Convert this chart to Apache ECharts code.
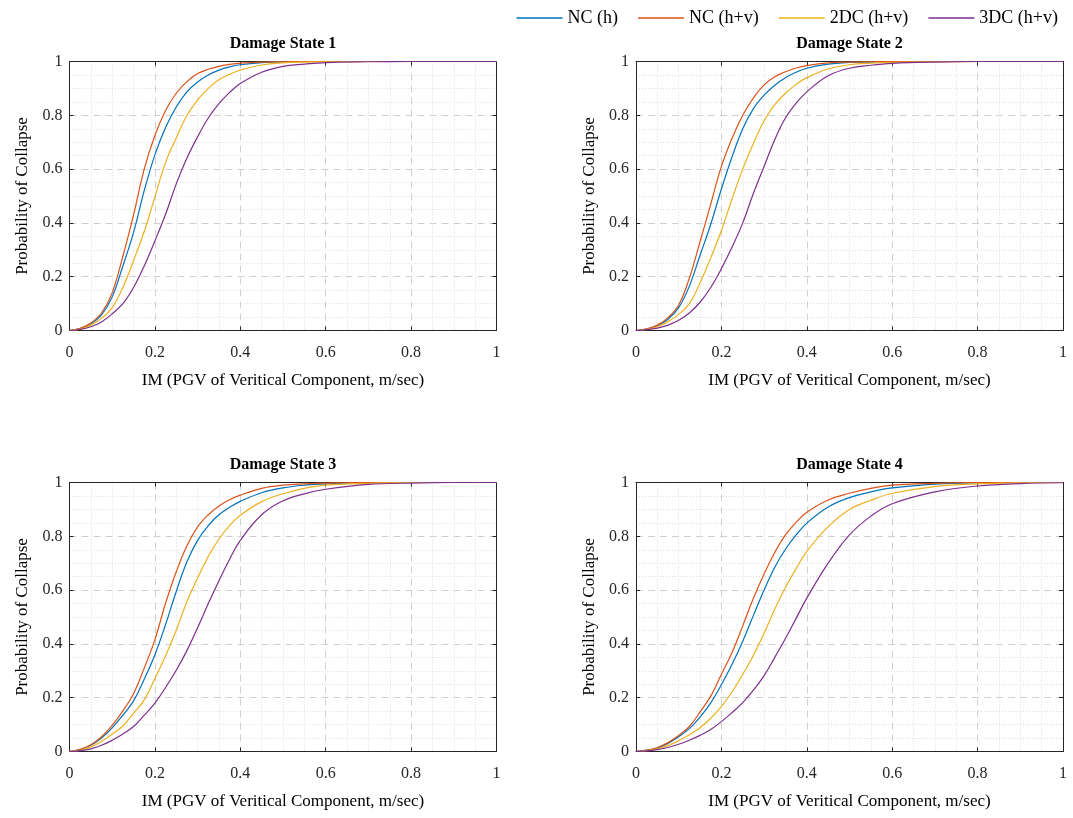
<!DOCTYPE html>
<html>
<head>
<meta charset="utf-8">
<script src="https://cdn.jsdelivr.net/npm/echarts@6/dist/echarts.min.js"></script>
<style>html,body{margin:0;padding:0;background:#fff}#c{width:1073px;height:818px}</style>
</head>
<body>
<div id="c"></div>
<script>
// ---- data ----
const xs = [0,0.025,0.05,0.075,0.1,0.125,0.15,0.175,0.2,0.225,0.25,0.275,0.3,0.325,0.35,0.375,0.4,0.45,0.5,0.55,0.6,0.7,0.8,0.9,1.0];
const seriesNames = ['NC (h)','NC (h+v)','2DC (h+v)','3DC (h+v)'];
const panelTitles = ['Damage State 1','Damage State 2','Damage State 3','Damage State 4'];
const tickValues = [0,0.2,0.4,0.6,0.8,1];

// Damage State 1
const ds1_nc_h   = [0,0.007,0.025,0.058,0.125,0.24,0.365,0.52,0.653,0.755,0.831,0.887,0.924,0.95,0.968,0.98,0.988,0.996,0.999,1,1,1,1,1,1];
const ds1_nc_hv  = [0,0.008,0.028,0.065,0.14,0.276,0.43,0.6,0.725,0.818,0.882,0.925,0.955,0.971,0.982,0.989,0.994,0.998,0.999,1,1,1,1,1,1];
const ds1_2dc_hv = [0,0.005,0.02,0.045,0.085,0.16,0.26,0.368,0.497,0.625,0.716,0.8,0.857,0.9,0.932,0.952,0.968,0.987,0.995,0.998,0.999,1,1,1,1];
const ds1_3dc_hv = [0,0.004,0.014,0.032,0.062,0.1,0.16,0.24,0.333,0.432,0.545,0.641,0.72,0.79,0.843,0.885,0.918,0.96,0.982,0.99,0.996,0.999,1,1,1];
// Damage State 2
const ds2_nc_h   = [0,0.005,0.018,0.042,0.085,0.165,0.28,0.395,0.526,0.646,0.75,0.825,0.875,0.912,0.94,0.96,0.975,0.99,0.997,0.998,0.999,1,1,1,1];
const ds2_nc_hv  = [0,0.006,0.02,0.048,0.095,0.195,0.33,0.47,0.61,0.715,0.8,0.865,0.913,0.943,0.962,0.976,0.985,0.995,0.998,0.999,1,1,1,1,1];
const ds2_2dc_hv = [0,0.004,0.014,0.033,0.06,0.1,0.177,0.27,0.372,0.49,0.6,0.695,0.78,0.84,0.882,0.915,0.94,0.972,0.988,0.994,0.997,0.999,1,1,1];
const ds2_3dc_hv = [0,0.003,0.009,0.02,0.038,0.065,0.105,0.16,0.23,0.31,0.4,0.51,0.61,0.71,0.79,0.845,0.887,0.947,0.975,0.986,0.993,0.998,1,1,1];
// Damage State 3
const ds3_nc_h   = [0,0.007,0.023,0.05,0.088,0.135,0.188,0.269,0.36,0.472,0.595,0.705,0.785,0.84,0.88,0.908,0.93,0.962,0.98,0.99,0.995,0.999,1,1,1];
const ds3_nc_hv  = [0,0.008,0.025,0.055,0.097,0.151,0.215,0.31,0.416,0.551,0.668,0.765,0.835,0.88,0.913,0.936,0.953,0.978,0.99,0.995,0.998,1,1,1,1];
const ds3_2dc_hv = [0,0.005,0.017,0.037,0.065,0.095,0.142,0.192,0.271,0.356,0.451,0.557,0.645,0.725,0.79,0.84,0.878,0.929,0.958,0.978,0.99,0.997,1,1,1];
const ds3_3dc_hv = [0,0.003,0.01,0.023,0.042,0.065,0.093,0.135,0.18,0.238,0.302,0.375,0.46,0.55,0.635,0.715,0.785,0.88,0.932,0.958,0.975,0.993,0.998,1,1];
// Damage State 4
const ds4_nc_h   = [0,0.004,0.013,0.03,0.055,0.085,0.128,0.181,0.248,0.324,0.41,0.506,0.6,0.685,0.752,0.805,0.849,0.909,0.944,0.965,0.98,0.994,0.999,1,1];
const ds4_nc_hv  = [0,0.005,0.015,0.033,0.06,0.093,0.147,0.206,0.287,0.368,0.467,0.57,0.66,0.74,0.805,0.852,0.889,0.935,0.96,0.978,0.99,0.997,1,1,1];
const ds4_2dc_hv = [0,0.003,0.01,0.022,0.04,0.062,0.088,0.124,0.167,0.222,0.287,0.358,0.44,0.53,0.61,0.68,0.744,0.836,0.9,0.934,0.96,0.985,0.995,0.999,1];
const ds4_3dc_hv = [0,0.002,0.007,0.015,0.027,0.042,0.06,0.082,0.111,0.145,0.182,0.228,0.282,0.35,0.42,0.495,0.57,0.7,0.805,0.875,0.921,0.965,0.987,0.996,0.999];

const panels = [
  [ds1_nc_h, ds1_nc_hv, ds1_2dc_hv, ds1_3dc_hv],
  [ds2_nc_h, ds2_nc_hv, ds2_2dc_hv, ds2_3dc_hv],
  [ds3_nc_h, ds3_nc_hv, ds3_2dc_hv, ds3_3dc_hv],
  [ds4_nc_h, ds4_nc_hv, ds4_2dc_hv, ds4_3dc_hv]
];

// ---- styling / layout ----
const colors = ['#0072BD','#D95319','#EDB120','#7E2F8E'];
const FONT = '"Liberation Serif","Times New Roman",serif';
const AX = '#262626';
const gridPos = [
  {left:69.5, top:61.5},
  {left:636, top:61.5},
  {left:69.5, top:482.5},
  {left:636, top:482.5}
];
const GW = 427, GH = 269;
const fmt = v => String(Math.round(v*10)/10);

const grids = [], xAxes = [], yAxes = [], series = [], titles = [];
gridPos.forEach((g, i) => {
  grids.push({left:g.left, top:g.top, width:GW, height:GH, show:false, containLabel:false});
  titles.push({
    text: panelTitles[i], left: g.left + GW/2, top: g.top - 26, textAlign:'center', padding:0,
    textStyle:{fontFamily:FONT, fontWeight:'bold', fontSize:16, color:'#000'}
  });
  const common = {
    type:'value', min:0, max:1, interval:0.2, gridIndex:i,
    axisLine:{show:true, onZero:false, lineStyle:{color:AX, width:1}},
    axisTick:{show:true, inside:true, length:4, lineStyle:{color:AX}}
  };
  xAxes.push(Object.assign({}, common, {
    position:'bottom',
    name:'IM (PGV of Veritical Component, m/sec)', nameLocation:'middle', nameGap:42,
    nameTextStyle:{fontFamily:FONT, fontSize:17, color:'#000'},
    axisLabel:{show:true, formatter:fmt, margin:14, fontFamily:FONT, fontSize:16, color:AX},
    splitLine:{show:true, lineStyle:{color:'#d0d0d0', width:1, type:[7,5]}},
    minorTick:{show:false, splitNumber:4},
    minorSplitLine:{show:true, lineStyle:{color:'#dcdcdc', width:1, type:[1,2]}}
  }));
  xAxes.push(Object.assign({}, common, {
    position:'top', axisLabel:{show:false}, splitLine:{show:false}
  }));
  yAxes.push(Object.assign({}, common, {
    position:'left',
    name:'Probability of Collapse', nameLocation:'middle', nameGap:38,
    nameTextStyle:{fontFamily:FONT, fontSize:17, color:'#000'},
    axisLabel:{show:true, formatter:fmt, margin:7, fontFamily:FONT, fontSize:16, color:AX},
    splitLine:{show:true, lineStyle:{color:'#d0d0d0', width:1, type:[7,5]}},
    minorTick:{show:false, splitNumber:4},
    minorSplitLine:{show:true, lineStyle:{color:'#dcdcdc', width:1, type:[1,2]}}
  }));
  yAxes.push(Object.assign({}, common, {
    position:'right', axisLabel:{show:false}, splitLine:{show:false}
  }));
  panels[i].forEach((vals, k) => {
    series.push({
      type:'line', name:seriesNames[k], xAxisIndex:2*i, yAxisIndex:2*i,
      data: xs.map((x, j) => [x, vals[j]]),
      smooth:0.4, symbol:'none', showSymbol:false, clip:true,
      lineStyle:{color:colors[k], width:1.2}, itemStyle:{color:colors[k]},
      animation:false, z:2+k
    });
  });
});

const chart = echarts.init(document.getElementById('c'), null, {renderer:'canvas'});
chart.setOption({
  backgroundColor:'#fff',
  animation:false,
  color: colors,
  title: titles,
  legend: {
    show:true, data: seriesNames, top:4, right:10, icon:'rect',
    itemWidth:46, itemHeight:1.3, itemGap:20,
    textStyle:{fontFamily:FONT, fontSize:18, color:'#000'}
  },
  grid: grids,
  xAxis: xAxes,
  yAxis: yAxes,
  series: series
});
</script>
</body>
</html>
